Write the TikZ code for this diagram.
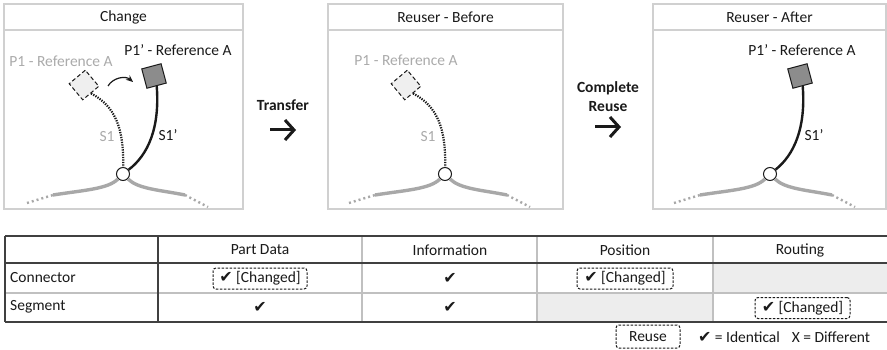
\documentclass[tikz,border=0pt]{standalone}
\usepackage{fontspec}
\setmainfont{Carlito}
\newfontfamily\symf{DejaVu Sans}
\usetikzlibrary{arrows.meta}
\definecolor{panelgray}{HTML}{D0D0D0}
\definecolor{txtgray}{HTML}{ABABAB}
\definecolor{linegray}{HTML}{A8A8A8}
\definecolor{sqfill}{HTML}{8C8C8C}
\definecolor{dsqfill}{HTML}{EFEFEF}
\definecolor{cellgray}{HTML}{EDEDED}
\definecolor{tgray}{HTML}{C0C0C0}
\definecolor{tdark}{HTML}{404040}
\definecolor{ink}{HTML}{1A1A1A}
\newcommand{\ck}{{\symf\fontsize{16}{16}\selectfont ✔}}
\tikzset{
  panel/.style={draw=panelgray, line width=1.2pt},
  lbl/.style={inner sep=0pt, text=ink},
  glbl/.style={inner sep=0pt, text=txtgray},
  circ/.style={circle, draw=ink, fill=white, line width=1pt, minimum size=13pt, inner sep=0pt},
  gsq/.style={draw=ink, fill=sqfill, line width=1pt, minimum size=20pt, inner sep=0pt, rotate=15},
  dsq/.style={draw=ink, fill=dsqfill, dash pattern=on 4pt off 2.5pt, line width=1pt, minimum size=21pt, inner sep=0pt, rotate=40},
  seg/.style={draw=ink, line width=2.4pt},
  dotseg/.style={draw=ink, line width=2.2pt, dash pattern=on 1.3pt off 1.2pt},
  grayline/.style={draw=linegray, line width=3.4pt},
  graydot/.style={draw=linegray, line width=2.4pt, dash pattern=on 2pt off 3pt},
  bigarrow/.style={draw=ink, line width=3pt, -{Straight Barb[length=9pt,width=20pt,line width=3pt]}},
  dbox/.style={draw=ink, dash pattern=on 2.5pt off 1.5pt, line width=1pt, rounded corners=3pt, minimum height=21pt, text=ink, inner sep=2pt},
  tdarkline/.style={draw=tdark, line width=1.4pt},
  tgrayline/.style={draw=tgray, line width=1.2pt},
}
\begin{document}
\begin{tikzpicture}[x=1pt,y=-1pt, font=\fontsize{15.5}{18}\selectfont]
\useasboundingbox[fill=white] (0,0) rectangle (887,350);

% ---------- panels ----------
\draw[panel] (4,4) rectangle (243,209);
\draw[panel] (4,30) -- (243,30);
\draw[panel] (328,4) rectangle (563,209);
\draw[panel] (328,30) -- (563,30);
\draw[panel] (653,4) rectangle (886,209);
\draw[panel] (653,30) -- (886,30);
\node[lbl] (t1) at (123.5,17) {Change};
\node[lbl] (t2) at (445.5,17) {Reuser - Before};
\node[lbl] (t3) at (769.5,17) {Reuser - After};

% ---------- panel 1 ----------
\coordinate (aL0) at (27,203);
\coordinate (aL1) at (53,195);
\coordinate (aR1) at (185,195);
\coordinate (aR0) at (208,207);
\node[circ] (c1) at (123,174) {};
\draw[grayline] (aL1) .. controls (85,190) and (108,189) .. (c1);
\draw[grayline] (c1) .. controls (138,189) and (160,190) .. (aR1);
\draw[graydot] (aL0) -- (aL1);
\draw[graydot] (aR1) -- (aR0);
\node[dsq] (d1) at (84,85) {};
\node[gsq] (g1) at (154,76) {};
\draw[dotseg] (d1.south) .. controls (115,106) and (124,128) .. (c1);
\draw[seg] (g1.south) .. controls (160,128) and (148,155) .. (c1);
\node[glbl] (p1a) at (61,61) {P1 - Reference A};
\node[lbl] (p1b) at (178,50) {P1’ - Reference A};
\node[glbl] (s1a) at (107,137) {S1};
\node[lbl] (s1b) at (168,135) {S1’};
\coordinate (m1) at (108,86);
\coordinate (m2) at (133,82);
\draw[draw=ink, line width=1.2pt, -{Stealth[length=7pt,width=6pt]}] (m1) to[bend left=50] (m2);

% ---------- transfer ----------
\node[lbl, font=\fontsize{15.5}{18}\selectfont\bfseries] (tr) at (283,105) {Transfer};
\coordinate (tra) at (270,130);
\coordinate (trb) at (296,130);
\draw[bigarrow] (tra) -- (trb);

% ---------- panel 2 ----------
\coordinate (bL0) at (349,203);
\coordinate (bL1) at (375,195);
\coordinate (bR1) at (507,195);
\coordinate (bR0) at (530,207);
\node[circ] (c2) at (445,174) {};
\draw[grayline] (bL1) .. controls (407,190) and (430,189) .. (c2);
\draw[grayline] (c2) .. controls (460,189) and (482,190) .. (bR1);
\draw[graydot] (bL0) -- (bL1);
\draw[graydot] (bR1) -- (bR0);
\node[dsq] (d2) at (406,85) {};
\draw[dotseg] (d2.south) .. controls (437,106) and (446,128) .. (c2);
\node[glbl] (p2a) at (406,60) {P1 - Reference A};
\node[glbl] (s2a) at (428,137) {S1};

% ---------- complete reuse ----------
\node[lbl, align=center, font=\fontsize{15.5}{19}\selectfont\bfseries] (cr) at (608,97) {Complete\\Reuse};
\coordinate (cra) at (595,127);
\coordinate (crb) at (621,127);
\draw[bigarrow] (cra) -- (crb);

% ---------- panel 3 ----------
\coordinate (cL0) at (674,203);
\coordinate (cL1) at (700,195);
\coordinate (cR1) at (832,195);
\coordinate (cR0) at (855,207);
\node[circ] (c3) at (770,174) {};
\draw[grayline] (cL1) .. controls (732,190) and (755,189) .. (c3);
\draw[grayline] (c3) .. controls (785,189) and (807,190) .. (cR1);
\draw[graydot] (cL0) -- (cL1);
\draw[graydot] (cR1) -- (cR0);
\node[gsq] (g3) at (800,76) {};
\draw[seg] (g3.south) .. controls (806,128) and (794,155) .. (c3);
\node[lbl] (p3b) at (802,50) {P1’ - Reference A};
\node[lbl] (s3b) at (814,135) {S1’};

% ---------- table ----------
\fill[cellgray] (537,293) rectangle (713,322);
\fill[cellgray] (713,263) rectangle (887,293);
\draw[tgrayline] (362,236) -- (362,322);
\draw[tgrayline] (537,236) -- (537,322);
\draw[tgrayline] (713,236) -- (713,322);
\draw[tgrayline] (5,293) -- (887,293);
\draw[tdarkline] (5,236) -- (887,236);
\draw[tdarkline] (5,263) -- (887,263);
\draw[tdarkline] (5,322) -- (887,322);
\draw[tdarkline] (5,236) -- (5,322);
\draw[tdarkline] (158,236) -- (158,322);

\node[lbl] (h1) at (260,250) {Part Data};
\node[lbl] (h2) at (450,250) {Information};
\node[lbl] (h3) at (625,250) {Position};
\node[lbl] (h4) at (800,250) {Routing};
\node[lbl, anchor=west] (r1) at (10,278) {Connector};
\node[lbl, anchor=west] (r2) at (10,307) {Segment};

\node[dbox, minimum width=94pt] (b11) at (260,278.5) {\ck\ [Changed]};
\node[lbl] (b12) at (450,278) {\ck};
\node[dbox, minimum width=96pt] (b13) at (625,278.5) {\ck\ [Changed]};
\node[lbl] (b21) at (260,307) {\ck};
\node[lbl] (b22) at (450,307) {\ck};
\node[dbox, minimum width=95pt] (b24) at (802.5,308) {\ck\ [Changed]};

% ---------- legend ----------
\node[dbox, minimum width=64pt, minimum height=23pt] (lg1) at (648,336.5) {Reuse};
\node[lbl] (lg2) at (739,337) {\ck\ = Identical};
\node[lbl] (lg3) at (831,337) {X = Different};
\end{tikzpicture}
\end{document}
